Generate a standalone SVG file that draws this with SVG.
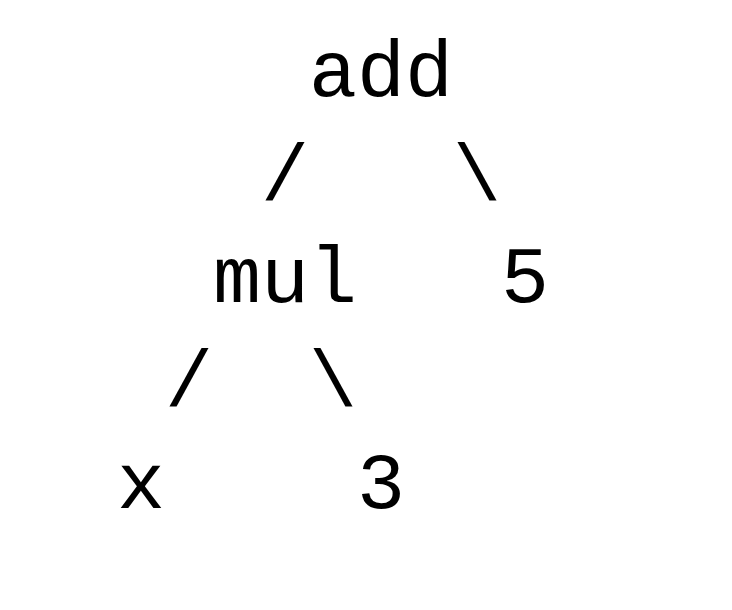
<svg xmlns="http://www.w3.org/2000/svg" width="732" height="610" viewBox="0 0 732 610">
<style>
text { font-family: "Nimbus Mono PS", "Courier New", "FreeMono", "Liberation Mono", monospace; font-size: 80px; fill: #000; }
</style>
<rect width="732" height="610" fill="#fff"/>
<g id="connectors">
<text x="261" y="200">/</text>
<text x="453" y="200">\</text>
<text x="165" y="406">/</text>
<text x="309" y="406">\</text>
</g>
<g id="node-add"><text x="309" y="96">add</text></g>
<g id="node-mul"><text x="213" y="302">mul</text></g>
<g id="node-5"><text x="501" y="302">5</text></g>
<g id="node-x"><text x="117" y="508">x</text></g>
<g id="node-3"><text x="357" y="508">3</text></g>
</svg>
